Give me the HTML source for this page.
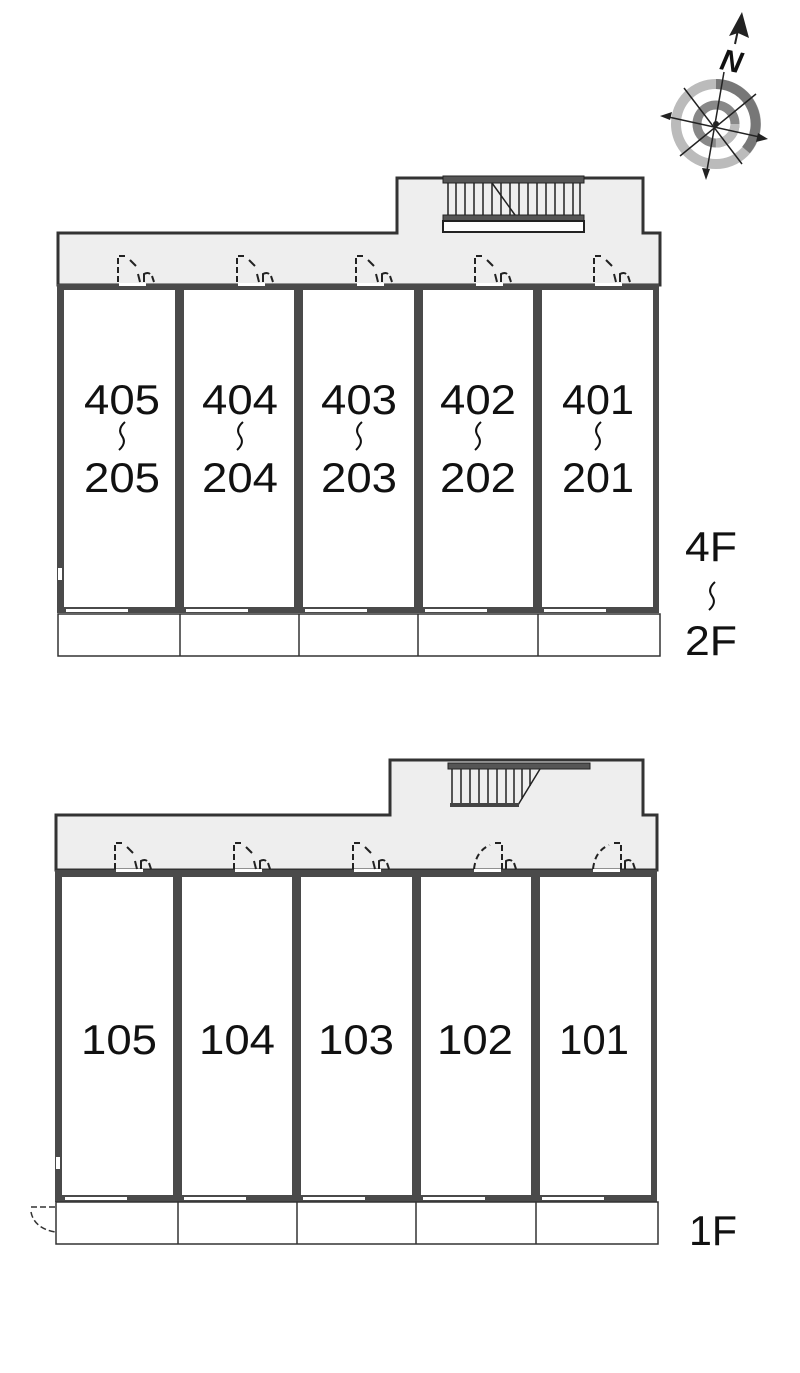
<!DOCTYPE html>
<html><head><meta charset="utf-8"><style>
html,body{margin:0;padding:0;background:#fff;}
svg{display:block;}
text{font-family:"Liberation Sans",sans-serif;fill:#111;}
</style></head><body>
<svg width="800" height="1373" viewBox="0 0 800 1373" xmlns="http://www.w3.org/2000/svg">
<defs>
<g id="door" fill="none" stroke="#222" stroke-width="2">
  <path d="M0 28 V2 H8" stroke-dasharray="6 3"/>
  <path d="M12 6 L18 12" />
  <path d="M20 20 L22 28"/>
  <path d="M26 28 V20 Q30 18 32 20 M34 22 L36 28"/>
</g>
<g id="door2" fill="none" stroke="#222" stroke-width="2">
  <path d="M30 28 V2 H22" stroke-dasharray="6 3"/>
  <path d="M2 28 Q4 10 18 4" stroke-dasharray="6 4"/>
  <path d="M34 28 V20 Q38 18 40 20 M42 22 L44 28"/>
</g>
<path id="sq" d="M5 0 Q-3 7 2 14 Q7 21 -1 28" fill="none" stroke="#111" stroke-width="2"/>
</defs>

<!-- compass -->
<g transform="translate(716,124)">
  <circle r="40" fill="none" stroke="#bbb" stroke-width="10"/>
  <path d="M0 -40 A40 40 0 0 1 30 26" fill="none" stroke="#777" stroke-width="10"/>
  <circle r="19" fill="none" stroke="#888" stroke-width="9"/>
  <circle r="19" fill="none" stroke="#bbb" stroke-width="9" stroke-dasharray="30 90"/>
  <g stroke="#222" stroke-width="1.5">
    <line x1="8" y1="-52" x2="-10" y2="52"/>
    <line x1="-52" y1="-8" x2="48" y2="14"/>
    <line x1="-32" y1="-36" x2="26" y2="40"/>
    <line x1="40" y1="-30" x2="-36" y2="32"/>
  </g>
  <polygon points="-56,-8 -44,-12 -46,-4" fill="#222"/>
  <polygon points="52,15 40,18 42,9" fill="#222"/>
  <polygon points="-10,56 -14,44 -6,45" fill="#222"/>
  <circle r="3" fill="#222"/>
</g>
<line x1="735" y1="44" x2="738" y2="30" stroke="#222" stroke-width="2"/>
<polygon points="742,12 749,38 738,33 729,36" fill="#222"/>
<text x="721" y="72" font-family="Liberation Serif" font-style="italic" font-weight="bold" font-size="30" transform="rotate(12 735 60)">N</text>

<!-- UPPER -->
<polygon points="58,285 58,233 397,233 397,178 643,178 643,233 660,233 660,285" fill="#eee" stroke="#333" stroke-width="3"/>
<rect x="443" y="176" width="141" height="7" fill="#555" stroke="#222" stroke-width="1"/>
<g stroke="#222" stroke-width="1.5">
<line x1="448" y1="183" x2="448" y2="216"/><line x1="456" y1="183" x2="456" y2="216"/><line x1="465" y1="183" x2="465" y2="216"/><line x1="474" y1="183" x2="474" y2="216"/><line x1="483" y1="183" x2="483" y2="216"/><line x1="492" y1="183" x2="492" y2="216"/><line x1="501" y1="183" x2="501" y2="216"/><line x1="510" y1="183" x2="510" y2="216"/><line x1="519" y1="183" x2="519" y2="216"/><line x1="528" y1="183" x2="528" y2="216"/><line x1="537" y1="183" x2="537" y2="216"/><line x1="546" y1="183" x2="546" y2="216"/><line x1="555" y1="183" x2="555" y2="216"/><line x1="564" y1="183" x2="564" y2="216"/><line x1="573" y1="183" x2="573" y2="216"/><line x1="580" y1="183" x2="580" y2="216"/>
<line x1="492" y1="183" x2="515" y2="215"/>
</g>
<rect x="443" y="215" width="141" height="6" fill="#555" stroke="#222" stroke-width="1"/>
<rect x="443" y="221" width="141" height="11" fill="#fff" stroke="#222" stroke-width="2"/>

<rect x="57" y="284" width="602" height="329" fill="#4a4a4a"/>
<g fill="#fff">
<rect x="64" y="290" width="111" height="317"/>
<rect x="184" y="290" width="110" height="317"/>
<rect x="303" y="290" width="111" height="317"/>
<rect x="423" y="290" width="110" height="317"/>
<rect x="542" y="290" width="111" height="317"/>
<rect x="66" y="609" width="62" height="3"/><rect x="186" y="609" width="62" height="3"/><rect x="305" y="609" width="62" height="3"/><rect x="425" y="609" width="62" height="3"/><rect x="544" y="609" width="62" height="3"/>
<rect x="58" y="568" width="4" height="12"/>
<rect x="119" y="283" width="27" height="3"/><rect x="238" y="283" width="27" height="3"/><rect x="357" y="283" width="27" height="3"/><rect x="476" y="283" width="27" height="3"/><rect x="595" y="283" width="27" height="3"/>
</g>
<use href="#door" x="118" y="254"/><use href="#door" x="237" y="254"/><use href="#door" x="356" y="254"/><use href="#door" x="475" y="254"/><use href="#door" x="594" y="254"/>
<g fill="none" stroke="#333" stroke-width="1.5">
<rect x="58" y="614" width="602" height="42"/>
<line x1="180" y1="614" x2="180" y2="656"/><line x1="299" y1="614" x2="299" y2="656"/><line x1="418" y1="614" x2="418" y2="656"/><line x1="538" y1="614" x2="538" y2="656"/>
</g>
<g font-size="42" text-anchor="middle" lengthAdjust="spacingAndGlyphs">
<text x="122" y="414" textLength="76" lengthAdjust="spacingAndGlyphs">405</text><text x="122" y="492" textLength="76" lengthAdjust="spacingAndGlyphs">205</text>
<text x="240" y="414" textLength="76" lengthAdjust="spacingAndGlyphs">404</text><text x="240" y="492" textLength="76" lengthAdjust="spacingAndGlyphs">204</text>
<text x="359" y="414" textLength="76" lengthAdjust="spacingAndGlyphs">403</text><text x="359" y="492" textLength="76" lengthAdjust="spacingAndGlyphs">203</text>
<text x="478" y="414" textLength="76" lengthAdjust="spacingAndGlyphs">402</text><text x="478" y="492" textLength="76" lengthAdjust="spacingAndGlyphs">202</text>
<text x="598" y="414" textLength="72" lengthAdjust="spacingAndGlyphs">401</text><text x="598" y="492" textLength="72" lengthAdjust="spacingAndGlyphs">201</text>
</g>
<use href="#sq" x="120" y="422"/><use href="#sq" x="238" y="422"/><use href="#sq" x="357" y="422"/><use href="#sq" x="476" y="422"/><use href="#sq" x="596" y="422"/>
<text x="711" y="561" font-size="42" text-anchor="middle" textLength="52" lengthAdjust="spacingAndGlyphs">4F</text>
<use href="#sq" x="710" y="582"/>
<text x="711" y="655" font-size="42" text-anchor="middle" textLength="52" lengthAdjust="spacingAndGlyphs">2F</text>

<!-- LOWER -->
<polygon points="56,870 56,815 390,815 390,760 643,760 643,815 657,815 657,870" fill="#eee" stroke="#333" stroke-width="3"/>
<rect x="448" y="763" width="142" height="6" fill="#555" stroke="#222" stroke-width="1"/>
<g stroke="#222" stroke-width="1.5">
<line x1="452" y1="769" x2="452" y2="805"/><line x1="461" y1="769" x2="461" y2="805"/><line x1="470" y1="769" x2="470" y2="805"/><line x1="479" y1="769" x2="479" y2="805"/><line x1="488" y1="769" x2="488" y2="805"/><line x1="497" y1="769" x2="497" y2="805"/><line x1="506" y1="769" x2="506" y2="805"/><line x1="514" y1="769" x2="514" y2="805"/>
<line x1="540" y1="769" x2="518" y2="805"/>
<line x1="522" y1="769" x2="522" y2="799"/><line x1="530" y1="769" x2="530" y2="786"/>
</g>
<rect x="450" y="803" width="69" height="4" fill="#444"/>
<rect x="55" y="870" width="602" height="332" fill="#4a4a4a"/>
<g fill="#fff">
<rect x="62" y="877" width="111" height="318"/>
<rect x="182" y="877" width="110" height="318"/>
<rect x="301" y="877" width="111" height="318"/>
<rect x="421" y="877" width="110" height="318"/>
<rect x="540" y="877" width="111" height="318"/>
<rect x="65" y="1197" width="62" height="3"/><rect x="184" y="1197" width="62" height="3"/><rect x="303" y="1197" width="62" height="3"/><rect x="423" y="1197" width="62" height="3"/><rect x="542" y="1197" width="62" height="3"/>
<rect x="56" y="1157" width="4" height="12"/>
<rect x="116" y="869" width="27" height="3"/><rect x="235" y="869" width="27" height="3"/><rect x="354" y="869" width="27" height="3"/><rect x="474" y="869" width="27" height="3"/><rect x="593" y="869" width="27" height="3"/>
</g>
<use href="#door" x="115" y="841"/><use href="#door" x="234" y="841"/><use href="#door" x="353" y="841"/><use href="#door2" x="472" y="841"/><use href="#door2" x="591" y="841"/>
<g fill="none" stroke="#333" stroke-width="1.5">
<rect x="56" y="1202" width="602" height="42"/>
<line x1="178" y1="1202" x2="178" y2="1244"/><line x1="297" y1="1202" x2="297" y2="1244"/><line x1="416" y1="1202" x2="416" y2="1244"/><line x1="536" y1="1202" x2="536" y2="1244"/>
</g>
<path d="M55 1207 H30 M31 1212 Q34 1228 55 1232" fill="none" stroke="#333" stroke-width="1.5" stroke-dasharray="6 3"/>
<g font-size="42" text-anchor="middle">
<text x="119" y="1054" textLength="76" lengthAdjust="spacingAndGlyphs">105</text><text x="237" y="1054" textLength="76" lengthAdjust="spacingAndGlyphs">104</text><text x="356" y="1054" textLength="76" lengthAdjust="spacingAndGlyphs">103</text><text x="475" y="1054" textLength="76" lengthAdjust="spacingAndGlyphs">102</text><text x="594" y="1054" textLength="70" lengthAdjust="spacingAndGlyphs">101</text>
</g>
<text x="713" y="1245" font-size="42" text-anchor="middle" textLength="48" lengthAdjust="spacingAndGlyphs">1F</text>
</svg>
</body></html>
